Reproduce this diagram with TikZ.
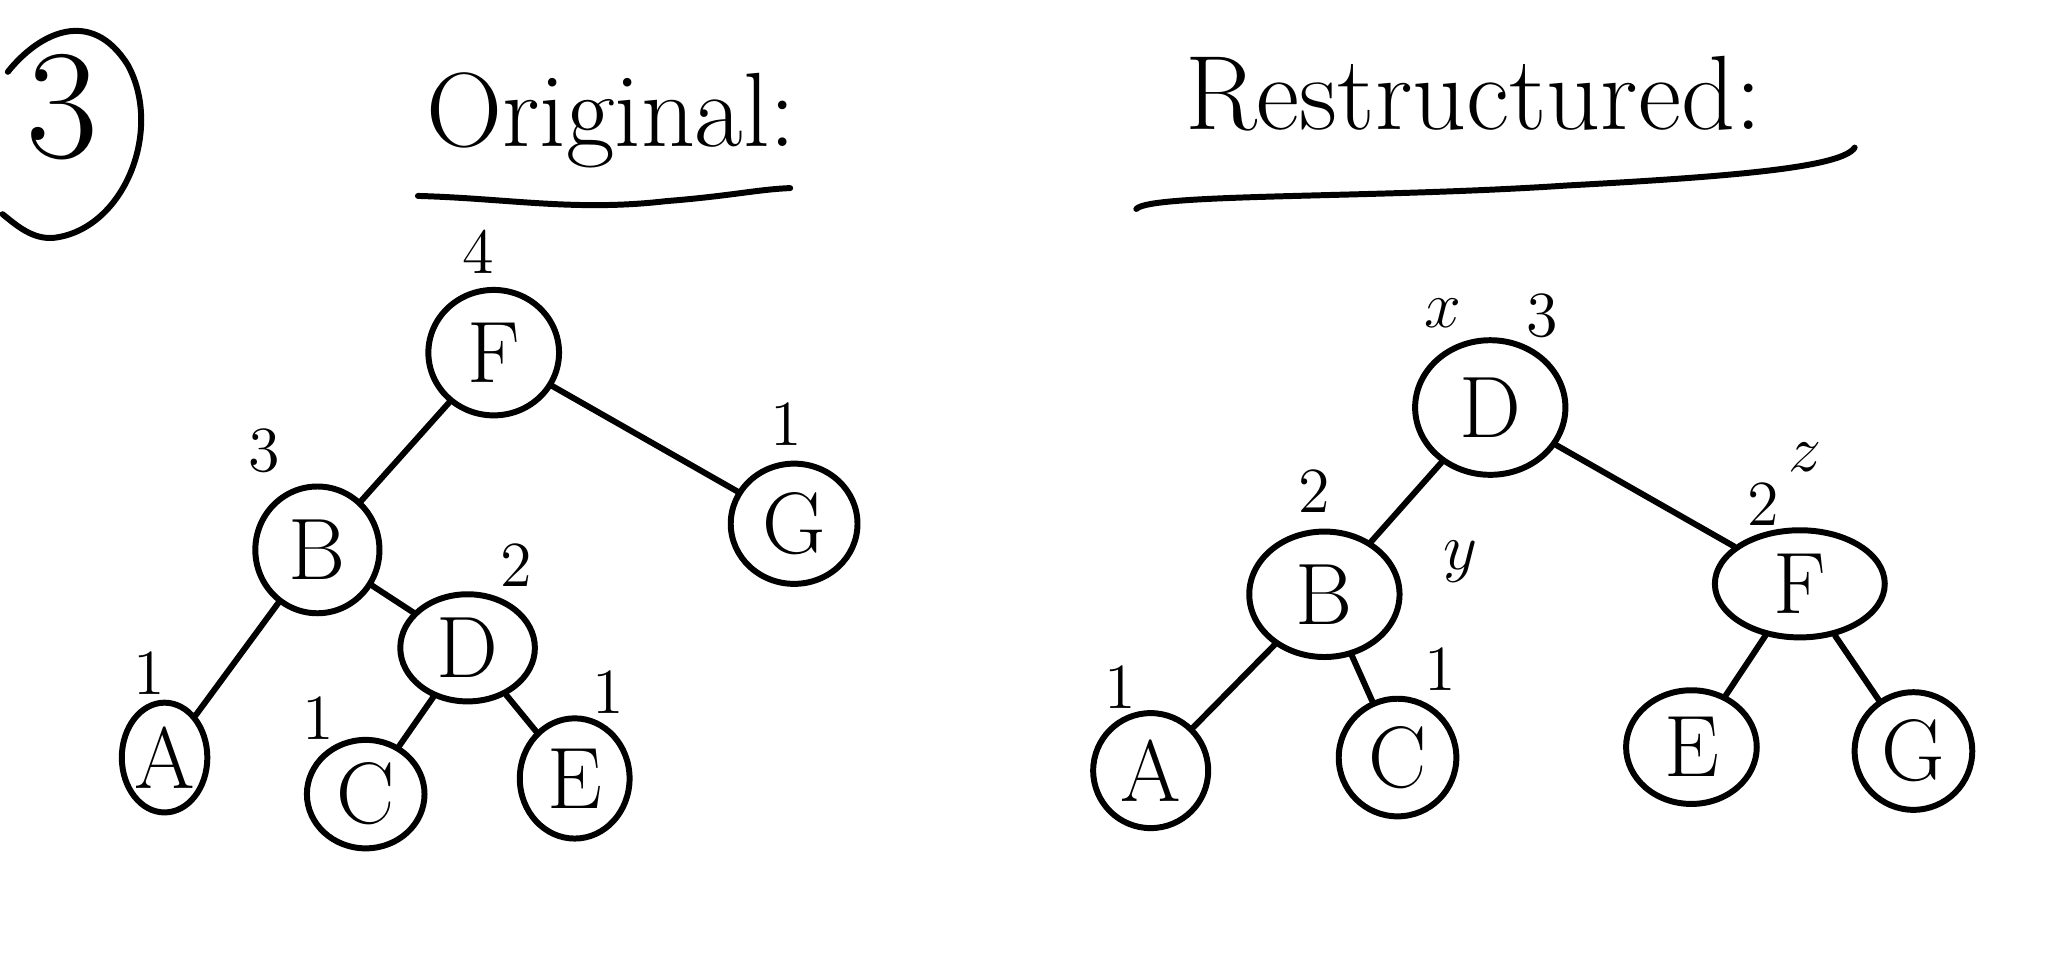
\documentclass[tikz,border=0pt]{standalone}
\usepackage{amsmath,amssymb}
\usetikzlibrary{shapes.geometric}

\begin{document}
\begin{tikzpicture}[x=0.01cm,y=-0.01cm]
\tikzset{
  treenode/.style={ellipse,draw=black,line width=1.3pt,minimum width=9.5mm,minimum height=9mm,inner sep=0pt,font=\fontsize{19}{19}\selectfont},
  treeedge/.style={draw=black,line width=1.3pt,line cap=round,line join=round},
  weightlabel/.style={font=\fontsize{14}{14}\selectfont,inner sep=1pt},
  titletext/.style={font=\fontsize{23}{23}\selectfont,inner sep=0pt},
  penline/.style={draw=black,line width=1.3pt,line cap=round,line join=round}
}
\useasboundingbox (0,0) rectangle (1568,739);
% headings
\node[font=\fontsize{34}{34}\selectfont,inner sep=0pt] (n_num) at (48,82) {3};
\draw[penline] (6,55) .. controls (30,25) and (70,5) .. (98,50)
  .. controls (125,100) and (95,175) .. (42,182)
  .. controls (25,184) and (12,172) .. (2,164);
\node[titletext] (n_orig) at (468,92) {Original:};
\draw[penline] (320,150) .. controls (390,152) and (440,162) .. (510,154)
  .. controls (560,150) and (580,145) .. (605,144);
\node[titletext] (n_rest) at (1128,72) {Restructured:};
\draw[penline] (870,160) .. controls (880,148) and (1050,152) .. (1200,142)
  .. controls (1330,135) and (1410,128) .. (1420,113);
% original tree
\node[treenode,minimum width=10mm,minimum height=9.6mm] (o_F) at (378,270) {F};
\node[treenode,minimum width=9.5mm,minimum height=9.7mm] (o_B) at (243,421) {B};
\node[treenode,minimum width=9.7mm,minimum height=9.2mm] (o_G) at (608,401) {G};
\node[treenode,minimum width=10.3mm,minimum height=8.2mm] (o_D) at (358,496) {D};
\node[treenode,minimum width=6.4mm,minimum height=8.4mm] (o_A) at (126,580) {A};
\node[treenode,minimum width=9mm,minimum height=8.3mm] (o_C) at (280,608) {C};
\node[treenode,minimum width=8.4mm,minimum height=9.2mm] (o_E) at (440,596) {E};
\node[weightlabel] (w_oF) at (366,193) {4};
\node[weightlabel] (w_oB) at (202,345) {3};
\node[weightlabel] (w_oG) at (602,325) {1};
\node[weightlabel] (w_oD) at (395,433) {2};
\node[weightlabel] (w_oA) at (114,515) {1};
\node[weightlabel] (w_oC) at (244,550) {1};
\node[weightlabel] (w_oE) at (466,530) {1};
\draw[treeedge] (o_F) -- (o_B);
\draw[treeedge] (o_F) -- (o_G);
\draw[treeedge] (o_B) -- (o_A);
\draw[treeedge] (o_B) -- (o_D);
\draw[treeedge] (o_D) -- (o_C);
\draw[treeedge] (o_D) -- (o_E);
% restructured tree
\node[treenode,minimum width=11.5mm,minimum height=10.3mm] (r_D) at (1141,312) {D};
\node[treenode,minimum width=11.5mm,minimum height=9.6mm] (r_B) at (1014,455) {B};
\node[treenode,minimum width=13mm,minimum height=8.2mm] (r_F) at (1378,447) {F};
\node[treenode,minimum width=8.8mm,minimum height=8.8mm] (r_A) at (881,590) {A};
\node[treenode,minimum width=9mm,minimum height=9mm] (r_C) at (1070,580) {C};
\node[treenode,minimum width=10mm,minimum height=8.7mm] (r_E) at (1295,572) {E};
\node[treenode,minimum width=9mm,minimum height=9mm] (r_G) at (1465,575) {G};
\node[weightlabel] (w_rx) at (1105,240) {$x$};
\node[weightlabel] (w_rD) at (1181,242) {3};
\node[weightlabel] (w_rB) at (1006,376) {2};
\node[weightlabel] (w_ry) at (1118,430) {$y$};
\node[weightlabel] (w_rz) at (1382,350) {$z$};
\node[weightlabel] (w_rF) at (1350,386) {2};
\node[weightlabel] (w_rA) at (858,526) {1};
\node[weightlabel] (w_rC) at (1103,512) {1};
\draw[treeedge] (r_D) -- (r_B);
\draw[treeedge] (r_D) -- (r_F);
\draw[treeedge] (r_B) -- (r_A);
\draw[treeedge] (r_B) -- (r_C);
\draw[treeedge] (r_F) -- (r_E);
\draw[treeedge] (r_F) -- (r_G);
\end{tikzpicture}
\end{document}
